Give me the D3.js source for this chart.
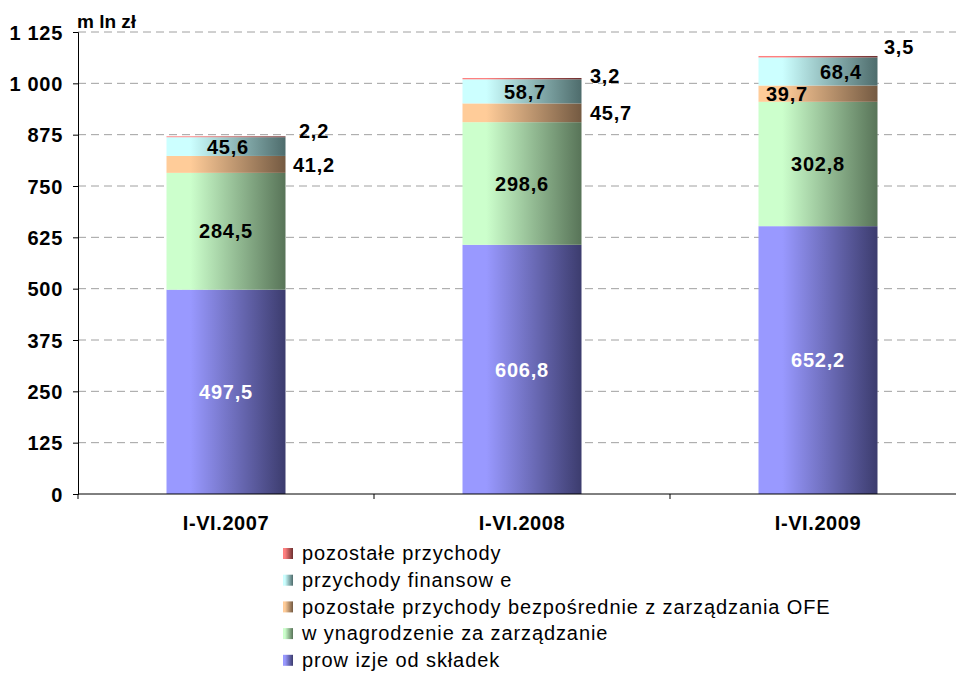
<!DOCTYPE html>
<html>
<head>
<meta charset="utf-8">
<script src="https://cdn.jsdelivr.net/npm/d3@7/dist/d3.min.js"></script>
<style>
  body { margin: 0; background: #fff; }
  text { font-family: "Liberation Sans", Arial, sans-serif; }
</style>
</head>
<body>
<svg id="chart" width="956" height="673"></svg>
<script>
// data
var categories = ["I-VI.2007", "I-VI.2008", "I-VI.2009"];
var seriesNames = ["prow izje od składek", "w ynagrodzenie za zarządzanie",
  "pozostałe przychody bezpośrednie z zarządzania OFE", "przychody finansow e", "pozostałe przychody"];
var prowizje      = [497.5, 606.8, 652.2];
var wynagrodzenie = [284.5, 298.6, 302.8];
var pozostaleBezp = [41.2, 45.7, 39.7];
var finansowe     = [45.6, 58.7, 68.4];
var pozostale     = [2.2, 3.2, 3.5];
var yTicks = [0, 125, 250, 375, 500, 625, 750, 875, 1000, 1125];

var series = [prowizje, wynagrodzenie, pozostaleBezp, finansowe, pozostale];
var colorsLight = ["#9999ff", "#ccffcc", "#ffcc99", "#ccffff", "#ff8080"];
var colorsDark  = ["#3c3c6e", "#587458", "#745a42", "#4e6c6c", "#6e3030"];
var labelColors = ["#fff", "#000", "#000", "#000", "#000"];

// label placement: [dx from bar center, dy from segment middle] per series/category
var labelPos = [
  [[0, 0], [0, 0], [0, 0]],
  [[0, 0], [0, 0], [0, 0]],
  [[88, 0], [89, 0], [-31, 0]],
  [[2, 0], [3, 0], [23, 0]],
  [[88, -6], [83, -3], [81, -10]]
];

var svg = d3.select("#chart");
var margin = {left: 78, top: 32, bottom: 494};
var plotRight = 78 + 3 * 296;

var y = d3.scaleLinear().domain([0, 1125]).range([margin.bottom, margin.top]);
var x = d3.scaleBand().domain(categories).range([margin.left, plotRight]).paddingInner(0).paddingOuter(0);
var barW = 119;

// gradients
var defs = svg.append("defs");
series.forEach(function(s, i) {
  var g = defs.append("linearGradient").attr("id", "grad" + i)
    .attr("x1", "0%").attr("x2", "100%").attr("y1", "0%").attr("y2", "0%");
  g.append("stop").attr("offset", "0%").attr("stop-color", colorsLight[i]);
  g.append("stop").attr("offset", "20%").attr("stop-color", colorsLight[i]);
  g.append("stop").attr("offset", "100%").attr("stop-color", colorsDark[i]);
});

// gridlines
svg.append("g").selectAll("line").data(yTicks.filter(function(d){ return d > 0; })).enter()
  .append("line")
  .attr("x1", margin.left).attr("x2", plotRight)
  .attr("y1", function(d){ return y(d); }).attr("y2", function(d){ return y(d); })
  .attr("stroke", "#a0a0a0").attr("stroke-width", 1).attr("stroke-dasharray", "8,5");

// stacked bars
var stackData = categories.map(function(c, j) {
  var o = {cat: c};
  series.forEach(function(s, i){ o["s" + i] = s[j]; });
  return o;
});
var stack = d3.stack().keys(series.map(function(s, i){ return "s" + i; }));
var layers = stack(stackData);

layers.forEach(function(layer, i) {
  svg.append("g").selectAll("rect").data(layer).enter()
    .append("rect")
    .attr("x", function(d){ return x(d.data.cat) + x.bandwidth() / 2 - barW / 2; })
    .attr("width", barW)
    .attr("y", function(d){ return y(d[1]); })
    .attr("height", function(d){ return y(d[0]) - y(d[1]); })
    .attr("fill", "url(#grad" + i + ")");
});

// axes
var yAxis = d3.axisLeft(y).tickValues(yTicks).tickSize(5)
  .tickFormat(function(d){ return d3.format(",")(d).replace(",", " "); });
var gy = svg.append("g").attr("transform", "translate(" + margin.left + ",0)").call(yAxis);
gy.select(".domain").attr("stroke", "#000");
gy.selectAll(".tick line").attr("stroke", "#000");
gy.selectAll(".tick text").attr("font-size", "20px").attr("font-weight", "bold")
  .attr("letter-spacing", "0.7px")
  .attr("fill", "#000").attr("x", -15).attr("dy", "0.36em");

var gx = svg.append("g").attr("transform", "translate(0," + margin.bottom + ")");
gx.append("line").attr("x1", margin.left).attr("x2", plotRight).attr("stroke", "#000");
gx.selectAll("line.tk").data(d3.range(categories.length + 1)).enter()
  .append("line").attr("class", "tk")
  .attr("x1", function(d){ return margin.left + d * x.bandwidth(); })
  .attr("x2", function(d){ return margin.left + d * x.bandwidth(); })
  .attr("y1", 0).attr("y2", 5).attr("stroke", "#000");
gx.selectAll("text").data(categories).enter()
  .append("text")
  .attr("x", function(d){ return x(d) + x.bandwidth() / 2; })
  .attr("y", 36)
  .attr("text-anchor", "middle").attr("font-size", "20px").attr("font-weight", "bold")
  .attr("letter-spacing", "0.6px")
  .text(function(d){ return d; });

// unit label
svg.append("text").attr("x", 77).attr("y", 28).attr("font-size", "19px").attr("font-weight", "bold")
  .text("m ln zł");

// value labels
var fmt = function(v){ return d3.format(".1f")(v).replace(".", ","); };
layers.forEach(function(layer, i) {
  svg.append("g").selectAll("text").data(layer).enter()
    .append("text")
    .attr("x", function(d, j){ return x(d.data.cat) + x.bandwidth() / 2 + labelPos[i][j][0]; })
    .attr("y", function(d, j){ return (y(d[0]) + y(d[1])) / 2 + labelPos[i][j][1]; })
    .attr("dy", "0.36em")
    .attr("text-anchor", "middle").attr("font-size", "20px").attr("font-weight", "bold")
    .attr("letter-spacing", "0.8px")
    .attr("fill", labelColors[i])
    .text(function(d, j){ return fmt(series[i][j]); });
});

// legend (reverse order, top = last series)
var legendOrder = d3.range(series.length).reverse();
var lg = svg.append("g").selectAll("g").data(legendOrder).enter()
  .append("g")
  .attr("transform", function(d, k){ return "translate(283," + (553 + k * 26.7) + ")"; });
lg.append("rect").attr("x", 0).attr("y", -5).attr("width", 10).attr("height", 11)
  .attr("fill", function(d){ return "url(#grad" + d + ")"; });
lg.append("text").attr("x", 19).attr("dy", "0.36em").attr("font-size", "20px")
  .attr("letter-spacing", "0.9px")
  .text(function(d){ return seriesNames[d]; });
</script>
</body>
</html>
